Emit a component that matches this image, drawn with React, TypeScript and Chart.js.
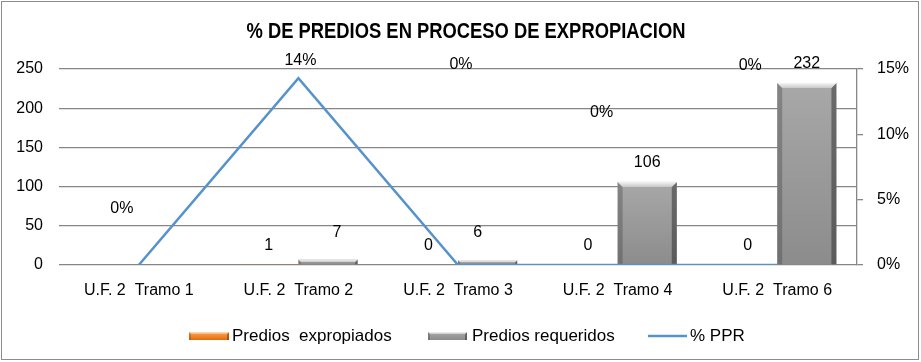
import React, { useEffect, useRef } from "react";
import { Chart, registerables } from "chart.js";

Chart.register(...registerables);

// ---------- data ----------
const categories = [
  "U.F. 2  Tramo 1",
  "U.F. 2  Tramo 2",
  "U.F. 2  Tramo 3",
  "U.F. 2  Tramo 4",
  "U.F. 2  Tramo 6",
];
const prediosExpropiados: (number | null)[] = [null, 1, 0, 0, 0];
const prediosRequeridos: (number | null)[] = [null, 7, 6, 106, 232];
const pctPPR = [0, 0.143, 0, 0, 0];
const leftAxisMax = 250;
const leftAxisStep = 50;
const rightAxisMax = 0.15;
const rightAxisStep = 0.05;
const seriesNames = ["Predios  expropiados", "Predios requeridos", "% PPR"];
const titleText = "% DE PREDIOS EN PROCESO DE EXPROPIACION";

// ---------- styles ----------
const FONT = '"Liberation Sans", Arial, sans-serif';
const TITLE_FONT = 'bold 22px "Liberation Sans Narrow", "Liberation Sans", Arial, sans-serif';
const GRID = "#868686";
const LINE_COLOR = "#5692cc";
const grayPal = {
  bodyTop: "#a8a8a8",
  bodyBottom: "#8c8c8c",
  left: "rgba(50,50,50,0.30)",
  right: "rgba(30,30,30,0.45)",
  topLight: "#f4f4f4",
  topDark: "#c8c8c8",
};
const orangePal = {
  bodyTop: "#f9a659",
  bodyBottom: "#e46c0a",
  left: "rgba(120,50,0,0.30)",
  right: "rgba(100,40,0,0.45)",
  topLight: "#fde0c4",
  topDark: "#f9b06a",
};
// data label placement offsets [dx, dy] relative to point / bar top
const pctLabelOffsets = [[-17, -56], [2, -18], [3, -200], [-16, -152], [-27, -199]];
const reqLabelOffsets = [[0, -19], [9, -27], [-10, -28], [0, -19], [0, -20]];
const expLabelOffsets = [[0, -19], [0, -19], [0, -19], [0, -19], [0, -19]];

function drawBevel(ctx: CanvasRenderingContext2D, x0: number, x1: number, top: number, bottom: number, pal: any, maxB = 5) {
  const w = x1 - x0;
  const h = bottom - top;
  if (!(h > 0) || !(w > 0)) return;
  const b = Math.min(maxB, h / 2, w / 2);
  ctx.save();
  const g = ctx.createLinearGradient(0, top, 0, bottom);
  g.addColorStop(0, pal.bodyTop);
  g.addColorStop(1, pal.bodyBottom);
  ctx.fillStyle = g;
  ctx.fillRect(x0, top, w, h);
  ctx.fillStyle = pal.left;
  ctx.beginPath();
  ctx.moveTo(x0, top);
  ctx.lineTo(x0 + b, top + b);
  ctx.lineTo(x0 + b, bottom);
  ctx.lineTo(x0, bottom);
  ctx.closePath();
  ctx.fill();
  ctx.fillStyle = pal.right;
  ctx.beginPath();
  ctx.moveTo(x1, top);
  ctx.lineTo(x1 - b, top + b);
  ctx.lineTo(x1 - b, bottom);
  ctx.lineTo(x1, bottom);
  ctx.closePath();
  ctx.fill();
  const tg = ctx.createLinearGradient(0, top, 0, top + b);
  tg.addColorStop(0, pal.topLight);
  tg.addColorStop(1, pal.topDark);
  ctx.fillStyle = tg;
  ctx.beginPath();
  ctx.moveTo(x0, top);
  ctx.lineTo(x1, top);
  ctx.lineTo(x1 - b, top + b);
  ctx.lineTo(x0 + b, top + b);
  ctx.closePath();
  ctx.fill();
  ctx.restore();
}

const bevelPlugin = {
  id: "bevelBars",
  afterDatasetDraw(chart: any, args: any) {
    const meta = args.meta;
    if (meta.type !== "bar") return;
    const ds = chart.data.datasets[args.index];
    const pal = ds.label === seriesNames[0] ? orangePal : grayPal;
    const ctx = chart.ctx;
    const area = chart.chartArea;
    ctx.save();
    ctx.beginPath();
    ctx.rect(area.left, area.top - 2, area.right - area.left, area.bottom - area.top + 2);
    ctx.clip();
    meta.data.forEach((el: any) => {
      const { x, y, base, width } = el.getProps(["x", "y", "base", "width"], true);
      if (!isFinite(y) || !isFinite(x)) return;
      drawBevel(ctx, x - width / 2, x + width / 2, Math.min(y, base), Math.max(y, base), pal);
    });
    ctx.restore();
  },
};

const labelsPlugin = {
  id: "dataLabelsAndDecor",
  afterDatasetsDraw(chart: any) {
    const ctx = chart.ctx;
    ctx.save();
    ctx.font = `16px ${FONT}`;
    ctx.fillStyle = "#000";
    ctx.textAlign = "center";
    ctx.textBaseline = "middle";
    chart.data.datasets.forEach((ds: any, di: number) => {
      const meta = chart.getDatasetMeta(di);
      meta.data.forEach((el: any, i: number) => {
        const v = ds.data[i];
        if (v === null || v === undefined) return;
        const { x, y } = el.getProps(["x", "y"], true);
        if (!isFinite(x) || !isFinite(y)) return;
        let off: number[];
        let text: string;
        if (meta.type === "line") {
          off = pctLabelOffsets[i];
          text = Math.round(v * 100) + "%";
        } else if (ds.label === seriesNames[0]) {
          off = expLabelOffsets[i];
          text = String(v);
        } else {
          off = reqLabelOffsets[i];
          text = String(v);
        }
        ctx.fillText(text, x + off[0], y + off[1]);
      });
    });
    ctx.restore();
  },
  afterDraw(chart: any) {
    const ctx = chart.ctx;
    ctx.save();
    ctx.strokeStyle = "#8c8c8c";
    ctx.lineWidth = 1;
    ctx.strokeRect(1.5, 1.5, 917, 358);
    ctx.fillStyle = "#000";
    ctx.font = TITLE_FONT;
    ctx.textAlign = "center";
    ctx.textBaseline = "middle";
    const tw = ctx.measureText(titleText).width;
    const target = 439;
    ctx.save();
    ctx.translate(466, 32);
    if (tw > target) ctx.scale(target / tw, 1);
    ctx.fillText(titleText, 0, 0);
    ctx.restore();
    const ly = 336;
    drawBevel(ctx, 189, 229, ly - 4, ly + 4, orangePal, 2);
    drawBevel(ctx, 428, 467, ly - 4, ly + 4, grayPal, 2);
    ctx.strokeStyle = LINE_COLOR;
    ctx.lineWidth = 2.5;
    ctx.beginPath();
    ctx.moveTo(648, ly);
    ctx.lineTo(687, ly);
    ctx.stroke();
    ctx.font = `17px ${FONT}`;
    ctx.fillStyle = "#000";
    ctx.textAlign = "left";
    ctx.fillText(seriesNames[0], 232, ly);
    ctx.fillText(seriesNames[1], 472, ly);
    ctx.fillText(seriesNames[2], 690, ly);
    ctx.restore();
  },
};

export default function App() {
  const canvasRef = useRef<HTMLCanvasElement | null>(null);

  useEffect(() => {
    document.body.style.margin = "0";
    const canvas = canvasRef.current;
    if (!canvas) return;
    const chart = new Chart(canvas, {
      type: "bar",
      data: {
        labels: categories,
        datasets: [
          {
            type: "bar",
            label: seriesNames[0],
            data: prediosExpropiados,
            yAxisID: "y",
            backgroundColor: "rgba(0,0,0,0)",
            borderWidth: 0,
            categoryPercentage: 0.742,
            barPercentage: 1,
            order: 1,
          },
          {
            type: "bar",
            label: seriesNames[1],
            data: prediosRequeridos,
            yAxisID: "y",
            backgroundColor: "rgba(0,0,0,0)",
            borderWidth: 0,
            categoryPercentage: 0.742,
            barPercentage: 1,
            order: 1,
          },
          {
            type: "line",
            label: seriesNames[2],
            data: pctPPR,
            yAxisID: "y1",
            borderColor: LINE_COLOR,
            backgroundColor: LINE_COLOR,
            borderWidth: 2.5,
            pointRadius: 0,
            tension: 0,
            fill: false,
            order: 0,
          } as any,
        ],
      },
      options: {
        responsive: false,
        animation: false,
        layout: { padding: { top: 69, bottom: 57, left: 0, right: 0 } },
        plugins: {
          legend: { display: false },
          title: { display: false },
          tooltip: { enabled: false },
        },
        scales: {
          x: {
            grid: { display: false },
            border: { display: false },
            ticks: { color: "#000", font: { family: FONT, size: 16 }, padding: 8, maxRotation: 0, autoSkip: false },
            afterFit(scale: any) {
              scale.height = 40;
            },
          },
          y: {
            position: "left",
            min: 0,
            max: leftAxisMax,
            ticks: { stepSize: leftAxisStep, color: "#000", font: { family: FONT, size: 16 }, padding: 16 },
            grid: { color: GRID, lineWidth: 1.3, drawTicks: false },
            border: { display: false },
            afterFit(scale: any) {
              scale.width = 59;
            },
          },
          y1: {
            position: "right",
            min: 0,
            max: rightAxisMax,
            ticks: {
              stepSize: rightAxisStep,
              color: "#000",
              font: { family: FONT, size: 16 },
              padding: 14,
              callback: (v: any) => Math.round(Number(v) * 100) + "%",
            },
            grid: { drawOnChartArea: false, color: GRID, tickLength: 6, lineWidth: 1.3 },
            border: { display: true, color: GRID, width: 1.3 },
            afterFit(scale: any) {
              scale.width = 64;
            },
          },
        },
      } as any,
      plugins: [bevelPlugin, labelsPlugin],
    });
    return () => chart.destroy();
  }, []);

  return (
    <div style={{ width: 921, height: 362, background: "#fff", position: "relative" }}>
      <canvas ref={canvasRef} width={921} height={362} style={{ display: "block" }} />
    </div>
  );
}
